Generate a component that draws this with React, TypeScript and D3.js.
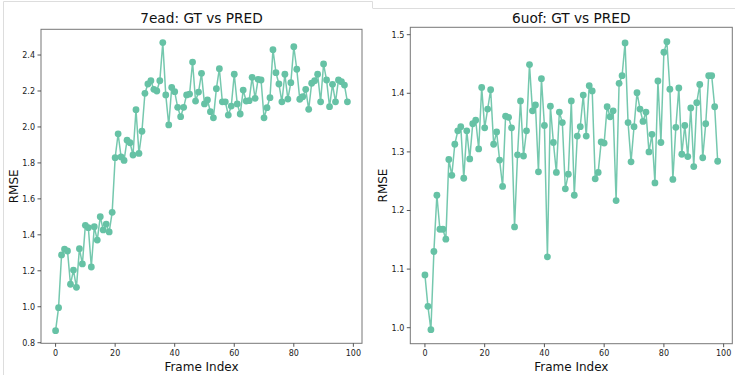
import React from "react";
import * as d3 from "d3";

const leftTitle = "7ead: GT vs PRED";
const rightTitle = "6uof: GT vs PRED";
const xLabel = "Frame Index";
const yLabel = "RMSE";

const leftValues = [
  0.867, 0.995, 1.288, 1.321, 1.31, 1.125, 1.204, 1.108, 1.323, 1.238,
  1.453, 1.44, 1.221, 1.445, 1.371, 1.501, 1.427, 1.46, 1.416, 1.525,
  1.829, 1.962, 1.833, 1.814, 1.926, 1.912, 1.844, 2.096, 1.853, 1.976,
  2.187, 2.239, 2.257, 2.209, 2.2, 2.257, 2.469, 2.178, 2.011, 2.22,
  2.196, 2.109, 2.057, 2.109, 2.178, 2.183, 2.361, 2.144, 2.194, 2.298,
  2.128, 2.15, 2.085, 2.051, 2.213, 2.324, 2.14, 2.14, 2.066, 2.116,
  2.293, 2.128, 2.072, 2.205, 2.144, 2.146, 2.276, 2.159, 2.265, 2.261,
  2.051, 2.107, 2.163, 2.43, 2.302, 2.239, 2.14, 2.293, 2.155, 2.246,
  2.446, 2.321, 2.154, 2.168, 2.209, 2.098, 2.243, 2.257, 2.293, 2.14,
  2.35, 2.261, 2.113, 2.237, 2.14, 2.261, 2.252, 2.233, 2.14,
];

const rightValues = [
  1.09, 1.0365, 0.9966, 1.13, 1.226, 1.168, 1.168, 1.151, 1.287, 1.26,
  1.313, 1.336, 1.343, 1.255, 1.336, 1.288, 1.348, 1.354, 1.305, 1.41,
  1.341, 1.373, 1.406, 1.313, 1.334, 1.286, 1.241, 1.361, 1.359, 1.341,
  1.172, 1.295, 1.387, 1.293, 1.336, 1.449, 1.37, 1.38, 1.266, 1.425,
  1.345, 1.121, 1.378, 1.316, 1.265, 1.368, 1.35, 1.237, 1.262, 1.387,
  1.226, 1.327, 1.343, 1.397, 1.327, 1.413, 1.404, 1.254, 1.265, 1.317,
  1.315, 1.377, 1.36, 1.37, 1.217, 1.417, 1.43, 1.486, 1.35, 1.283,
  1.343, 1.401, 1.373, 1.352, 1.368, 1.3, 1.33, 1.247, 1.421, 1.316,
  1.47, 1.488, 1.407, 1.253, 1.342, 1.409, 1.296, 1.345, 1.292, 1.375,
  1.275, 1.384, 1.415, 1.29, 1.348, 1.43, 1.43, 1.377, 1.284,
];

const xTicks = [0, 20, 40, 60, 80, 100];
const leftYTicks = [0.8, 1.0, 1.2, 1.4, 1.6, 1.8, 2.0, 2.2, 2.4];
const rightYTicks = [1.0, 1.1, 1.2, 1.3, 1.4, 1.5];

const COLOR = "#66c2a5";
const FONT = "DejaVu Sans, sans-serif";

type PanelProps = {
  title: string;
  values: number[];
  yTicks: number[];
  left: number;
  right: number;
  top: number;
  bottom: number;
  yDomain: [number, number];
  titleY: number;
  yLabelX: number;
};

function Panel({ title, values, yTicks, left, right, top, bottom, yDomain, titleY, yLabelX }: PanelProps) {
  const x = d3.scaleLinear().domain([-4.9, 102.9]).range([left, right]);
  const y = d3.scaleLinear().domain(yDomain).range([bottom, top]);
  const pts: [number, number][] = values.map((v, i) => [x(i), y(v)]);
  const line = d3.line<[number, number]>()(pts) || "";
  const cx = (left + right) / 2;
  const cy = (top + bottom) / 2;
  return (
    <g fontFamily={FONT}>
      <path d={line} fill="none" stroke={COLOR} strokeWidth={1.5} strokeOpacity={0.9} />
      {pts.map((p, i) => (
        <circle key={i} cx={p[0]} cy={p[1]} r={3.4} fill={COLOR} />
      ))}
      <rect x={left} y={top} width={right - left} height={bottom - top} fill="none" stroke="#777" strokeWidth={1} />
      {xTicks.map((t) => (
        <g key={t}>
          <line x1={x(t)} x2={x(t)} y1={bottom} y2={bottom + 3.5} stroke="#444" strokeWidth={0.9} />
          <text x={x(t)} y={bottom + 12.5} fontSize={8} textAnchor="middle" fill="#222">
            {t}
          </text>
        </g>
      ))}
      {yTicks.map((t) => (
        <g key={t}>
          <line x1={left - 3.5} x2={left} y1={y(t)} y2={y(t)} stroke="#444" strokeWidth={0.9} />
          <text x={left - 6} y={y(t) + 2.9} fontSize={8} textAnchor="end" fill="#222">
            {t.toFixed(1)}
          </text>
        </g>
      ))}
      <text x={cx} y={titleY} fontSize={13.7} textAnchor="middle" fill="#111">
        {title}
      </text>
      <text x={cx} y={371} fontSize={12} textAnchor="middle" fill="#111">
        {xLabel}
      </text>
      <text
        x={yLabelX}
        y={cy}
        fontSize={12}
        textAnchor="middle"
        fill="#111"
        transform={`rotate(-90 ${yLabelX} ${cy})`}
      >
        {yLabel}
      </text>
    </g>
  );
}

export default function App() {
  return (
    <svg
      width={735}
      height={375}
      style={{ position: "absolute", left: 0, top: 0, background: "#fff" }}
    >
      <rect x={0} y={0} width={735} height={375} fill="#fff" />
      <path d="M3.5,375 V1.5 H372.5 V8" fill="none" stroke="#ddd" strokeWidth={1} />
      <path d="M372.5,8.5 H735" fill="none" stroke="#ddd" strokeWidth={1} />
      <Panel
        title={leftTitle}
        values={leftValues}
        yTicks={leftYTicks}
        left={41}
        right={362}
        top={29.3}
        bottom={343.3}
        yDomain={[0.7967, 2.5431]}
        titleY={23}
        yLabelX={18}
      />
      <Panel
        title={rightTitle}
        values={rightValues}
        yTicks={rightYTicks}
        left={410.3}
        right={732.3}
        top={27.3}
        bottom={343.7}
        yDomain={[0.9727, 1.5126]}
        titleY={22.5}
        yLabelX={387}
      />
    </svg>
  );
}
